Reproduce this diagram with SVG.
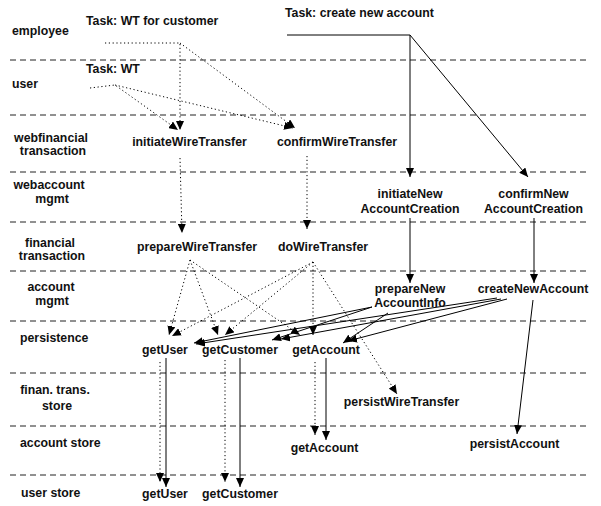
<svg xmlns="http://www.w3.org/2000/svg" width="601" height="506" viewBox="0 0 601 506">
<style>
text{font-family:"Liberation Sans",Arial,Helvetica,sans-serif;font-weight:bold;font-size:12.3px;fill:#111}
.c{text-anchor:middle}
.lane{stroke:#222;stroke-width:1;stroke-dasharray:6,4;fill:none}
.sol{stroke:#000;stroke-width:1;fill:none}
.dot{stroke:#000;stroke-width:1;stroke-dasharray:1.2,2.6;fill:none}
</style>
<defs>
<marker id="ah" markerUnits="userSpaceOnUse" markerWidth="9" markerHeight="8" refX="9" refY="4" orient="auto">
<path d="M0,0 L9,4 L0,8 z" fill="#000"/>
</marker>
</defs>
<rect width="601" height="506" fill="#fff"/>
<g id="lanes">
<line class="lane" x1="10" y1="60" x2="588" y2="60"/>
<line class="lane" x1="10" y1="115" x2="588" y2="115"/>
<line class="lane" x1="10" y1="172" x2="588" y2="172"/>
<line class="lane" x1="10" y1="222" x2="588" y2="222"/>
<line class="lane" x1="10" y1="271" x2="588" y2="271"/>
<line class="lane" x1="10" y1="321" x2="588" y2="321"/>
<line class="lane" x1="10" y1="373" x2="588" y2="373"/>
<line class="lane" x1="10" y1="426" x2="588" y2="426"/>
<line class="lane" x1="10" y1="475" x2="588" y2="475"/>
<text x="12" y="35">employee</text>
<text x="12" y="88">user</text>
<text class="c" x="51" y="142">webfinancial</text>
<text class="c" x="53" y="155">transaction</text>
<text class="c" x="49" y="189">webaccount</text>
<text class="c" x="52" y="203">mgmt</text>
<text class="c" x="50" y="247">financial</text>
<text class="c" x="52" y="260">transaction</text>
<text class="c" x="51" y="291">account</text>
<text class="c" x="52" y="305">mgmt</text>
<text x="20" y="342">persistence</text>
<text class="c" x="55" y="394">finan. trans.</text>
<text class="c" x="57" y="410">store</text>
<text x="20" y="447">account store</text>
<text x="21" y="497">user store</text>
</g>
<g id="connectors">
<polyline class="dot" points="105,43 180,43 180,130" marker-end="url(#ah)"/>
<line class="dot" x1="180" y1="43" x2="295" y2="128" marker-end="url(#ah)"/>
<polyline class="dot" points="90,88 115,85 178,130" marker-end="url(#ah)"/>
<line class="dot" x1="115" y1="85" x2="293" y2="128" marker-end="url(#ah)"/>
<line class="dot" x1="180" y1="158" x2="182" y2="233" marker-end="url(#ah)"/>
<line class="dot" x1="307" y1="156" x2="307" y2="229" marker-end="url(#ah)"/>
<line class="dot" x1="190" y1="260" x2="169" y2="335" marker-end="url(#ah)"/>
<line class="dot" x1="190" y1="260" x2="218" y2="335" marker-end="url(#ah)"/>
<line class="dot" x1="190" y1="260" x2="300" y2="335" marker-end="url(#ah)"/>
<line class="dot" x1="313" y1="262" x2="172" y2="336" marker-end="url(#ah)"/>
<line class="dot" x1="313" y1="262" x2="225" y2="335" marker-end="url(#ah)"/>
<line class="dot" x1="313" y1="262" x2="313" y2="335" marker-end="url(#ah)"/>
<line class="dot" x1="313" y1="262" x2="397" y2="394" marker-end="url(#ah)"/>
<line class="dot" x1="160" y1="362" x2="160" y2="482" marker-end="url(#ah)"/>
<line class="dot" x1="225" y1="360" x2="225" y2="482" marker-end="url(#ah)"/>
<line class="dot" x1="315" y1="362" x2="315" y2="435" marker-end="url(#ah)"/>
<polyline class="sol" points="287,35 410,35 410,177" marker-end="url(#ah)"/>
<line class="sol" x1="410" y1="35" x2="528" y2="177" marker-end="url(#ah)"/>
<line class="sol" x1="410" y1="218" x2="410" y2="283" marker-end="url(#ah)"/>
<line class="sol" x1="534" y1="218" x2="534" y2="283" marker-end="url(#ah)"/>
<line class="sol" x1="372" y1="307" x2="194" y2="343" marker-end="url(#ah)"/>
<line class="sol" x1="372" y1="307" x2="272" y2="340" marker-end="url(#ah)"/>
<line class="sol" x1="388" y1="313" x2="343" y2="343" marker-end="url(#ah)"/>
<line class="sol" x1="497" y1="298" x2="196" y2="344" marker-end="url(#ah)"/>
<line class="sol" x1="501" y1="299" x2="281" y2="339" marker-end="url(#ah)"/>
<line class="sol" x1="507" y1="299" x2="348" y2="341" marker-end="url(#ah)"/>
<line class="sol" x1="166" y1="358" x2="166" y2="487" marker-end="url(#ah)"/>
<line class="sol" x1="240" y1="358" x2="240" y2="487" marker-end="url(#ah)"/>
<line class="sol" x1="326" y1="358" x2="326" y2="440" marker-end="url(#ah)"/>
<line class="sol" x1="533" y1="300" x2="517" y2="434" marker-end="url(#ah)"/>
</g>
<g id="task-wt-customer"><text x="86" y="25">Task: WT for customer</text></g>
<g id="task-wt"><text x="86" y="73">Task: WT</text></g>
<g id="task-create-account"><text x="285" y="17">Task: create new account</text></g>
<g id="initiateWireTransfer"><text class="c" x="189.5" y="146">initiateWireTransfer</text></g>
<g id="confirmWireTransfer"><text class="c" x="337" y="146">confirmWireTransfer</text></g>
<g id="initiateNewAccountCreation"><text class="c" x="410" y="198">initiateNew</text><text class="c" x="410" y="213">AccountCreation</text></g>
<g id="confirmNewAccountCreation"><text class="c" x="533.5" y="198">confirmNew</text><text class="c" x="533.5" y="213">AccountCreation</text></g>
<g id="prepareWireTransfer"><text class="c" x="197" y="251">prepareWireTransfer</text></g>
<g id="doWireTransfer"><text class="c" x="323" y="251">doWireTransfer</text></g>
<g id="prepareNewAccountInfo"><text class="c" x="410" y="293">prepareNew</text><text class="c" x="410" y="307">AccountInfo</text></g>
<g id="createNewAccount"><text class="c" x="533" y="293">createNewAccount</text></g>
<g id="getUser-persistence"><text class="c" x="165" y="354">getUser</text></g>
<g id="getCustomer-persistence"><text class="c" x="240" y="354">getCustomer</text></g>
<g id="getAccount-persistence"><text class="c" x="326" y="354">getAccount</text></g>
<g id="persistWireTransfer"><text class="c" x="401.5" y="406">persistWireTransfer</text></g>
<g id="getAccount-store"><text class="c" x="324.5" y="452">getAccount</text></g>
<g id="persistAccount"><text class="c" x="514.5" y="448">persistAccount</text></g>
<g id="getUser-store"><text class="c" x="165" y="498">getUser</text></g>
<g id="getCustomer-store"><text class="c" x="240" y="498">getCustomer</text></g>
</svg>
